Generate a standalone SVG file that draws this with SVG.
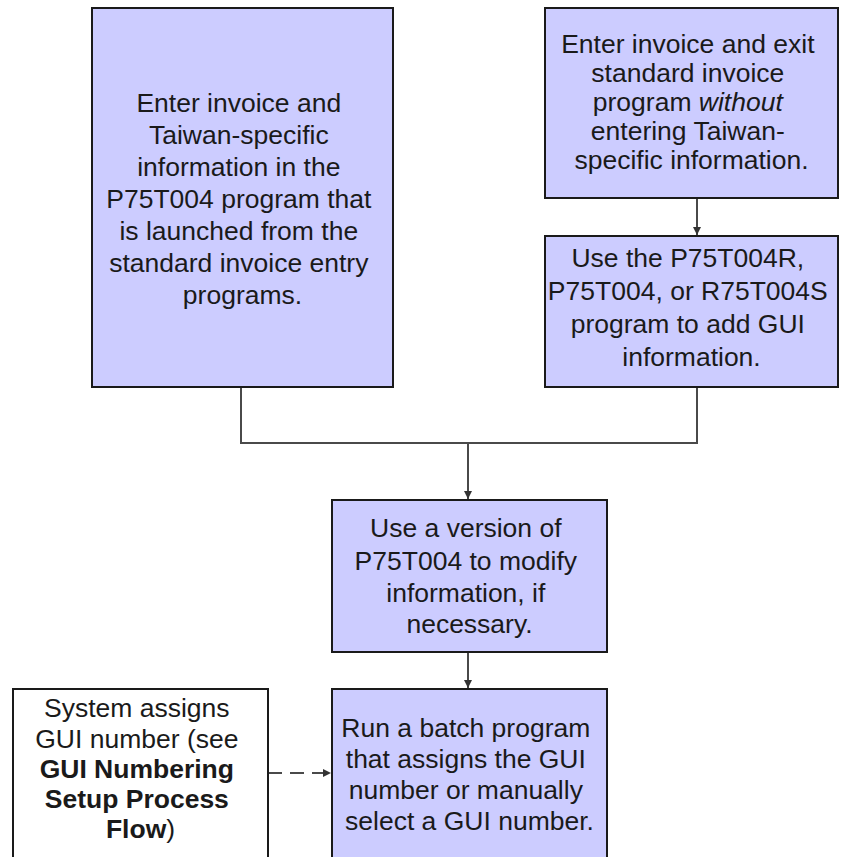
<svg xmlns="http://www.w3.org/2000/svg" width="841" height="857" viewBox="0 0 841 857">
  <style>
    .box { fill: #ccccff; stroke: #1a1a1a; stroke-width: 2; }
    .plain { fill: #ffffff; stroke: #1a1a1a; stroke-width: 2; }
    .lbl { font-family: "Liberation Sans", Arial, sans-serif; font-size: 26.5px; fill: #1a1a1a; text-anchor: middle; }
    .b { font-weight: bold; }
    .i { font-style: italic; }
    .wire { fill: none; stroke: #4a4a4a; stroke-width: 2; }
    .dash { stroke-dasharray: 14 8; }
  </style>
  <defs>
    <marker id="head" markerWidth="10" markerHeight="10" refX="9" refY="5" orient="auto" markerUnits="userSpaceOnUse">
      <path d="M1,1 L9,5 L1,9 Z" fill="#333333"/>
    </marker>
  </defs>

  <rect width="841" height="857" fill="#ffffff"/>

  <g id="connectors">
    <path class="wire" d="M241,387 V443 H697 V387"/>
    <path class="wire" d="M468,443 V499" marker-end="url(#head)"/>
    <path class="wire" d="M697,198 V235" marker-end="url(#head)"/>
    <path class="wire" d="M468,652 V688" marker-end="url(#head)"/>
    <path class="wire dash" d="M268,773 H331" marker-end="url(#head)"/>
  </g>

  <g id="enter-taiwan-info">
    <rect class="box" x="92" y="8" width="301" height="379"/>
    <text class="lbl">
      <tspan x="242.5" y="112">Enter invoice and</tspan>
      <tspan x="242.5" y="144">Taiwan-specific</tspan>
      <tspan x="242.5" y="176">information in the</tspan>
      <tspan x="242.5" y="208">P75T004 program that</tspan>
      <tspan x="242.5" y="240">is launched from the</tspan>
      <tspan x="242.5" y="272">standard invoice entry</tspan>
      <tspan x="242.5" y="304">programs.</tspan>
    </text>
  </g>

  <g id="enter-invoice-exit">
    <rect class="box" x="545" y="8" width="293" height="190"/>
    <text class="lbl">
      <tspan x="691.5" y="53">Enter invoice and exit</tspan>
      <tspan x="691.5" y="82">standard invoice</tspan>
      <tspan x="691.5" y="111">program <tspan class="i">without</tspan></tspan>
      <tspan x="691.5" y="140">entering Taiwan-</tspan>
      <tspan x="691.5" y="169">specific information.</tspan>
    </text>
  </g>

  <g id="add-gui-info">
    <rect class="box" x="545" y="236" width="293" height="151"/>
    <text class="lbl">
      <tspan x="691.5" y="267">Use the P75T004R,</tspan>
      <tspan x="691.5" y="300">P75T004, or R75T004S</tspan>
      <tspan x="691.5" y="333">program to add GUI</tspan>
      <tspan x="691.5" y="366">information.</tspan>
    </text>
  </g>

  <g id="modify-info">
    <rect class="box" x="332" y="500" width="275" height="152"/>
    <text class="lbl">
      <tspan x="469.5" y="537">Use a version of</tspan>
      <tspan x="469.5" y="570">P75T004 to modify</tspan>
      <tspan x="469.5" y="602">information, if</tspan>
      <tspan x="469.5" y="633">necessary.</tspan>
    </text>
  </g>

  <g id="run-batch">
    <rect class="box" x="332" y="689" width="275" height="190"/>
    <text class="lbl">
      <tspan x="469.5" y="737">Run a batch program</tspan>
      <tspan x="469.5" y="768">that assigns the GUI</tspan>
      <tspan x="469.5" y="799">number or manually</tspan>
      <tspan x="469.5" y="830">select a GUI number.</tspan>
    </text>
  </g>

  <g id="system-assigns">
    <rect class="plain" x="13" y="689" width="255" height="190"/>
    <text class="lbl">
      <tspan x="140.5" y="717">System assigns</tspan>
      <tspan x="140.5" y="748">GUI number (see</tspan>
      <tspan x="140.5" y="778" class="b">GUI Numbering</tspan>
      <tspan x="140.5" y="808" class="b">Setup Process</tspan>
      <tspan x="140.5" y="838"><tspan class="b">Flow</tspan>)</tspan>
    </text>
  </g>
</svg>
